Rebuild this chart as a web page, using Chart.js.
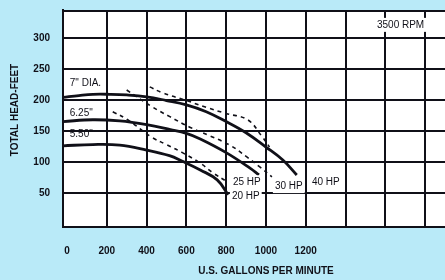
<!DOCTYPE html>
<html>
<head>
<meta charset="utf-8">
<script src="https://cdn.jsdelivr.net/npm/chart.js@4"></script>
<style>
  body { margin: 0; background: #b9eaf8; overflow: hidden; }
  canvas { display: block; }
</style>
</head>
<body>
<canvas id="pump" width="445" height="280"></canvas>
<script>
// impeller curves at 3500 RPM (US gpm -> total head, feet)
const gpm7 = [-20, 60, 130, 215, 300, 400, 500, 600, 700, 800, 900, 1000, 1085, 1155];
const head7 = [204, 207, 209, 209, 208, 205, 199, 192, 181, 165, 147, 124, 103, 79];
const gpm625 = [-20, 130, 265, 400, 520, 600, 670, 800, 920, 965];
const head625 = [165, 168, 166, 160, 152, 146, 137, 115, 90, 79];
const gpm550 = [-20, 130, 265, 400, 515, 580, 670, 755, 810];
const head550 = [126, 128, 127, 119, 110, 101, 87, 71, 47];

// dashed horsepower lines
const gpmHpA = [416, 476, 600, 700, 800, 908, 978, 1018];
const headHpA = [221, 212, 199, 188, 178, 168, 142, 124];
const gpmHpB = [300, 427, 517, 617, 718, 819, 904, 969, 1030];
const headHpB = [216, 189, 173, 156, 142, 127, 108, 92, 76];
const gpmHpC = [230, 305, 425, 500, 580, 670, 735, 805];
const headHpC = [181, 168, 140, 128, 115, 98, 82, 68];

const xTicks = [0, 200, 400, 600, 800, 1000, 1200, 1400, 1600, 1800];
const yTicks = [50, 100, 150, 200, 250, 300];

// text on the grid: [text, gpm, head, white box]
const notes = [
    ['7" DIA.', 14, 227, false],
    ['6.25"', 14, 179, false],
    ['5.50"', 14, 144, false],
    ['3500 RPM', 1558, 321, true],
    ['25 HP', 834, 67, true],
    ['20 HP', 829, 44, true],
    ['30 HP', 1045, 61, true],
    ['40 HP', 1231, 67, true]
];

const ink = '#101018';
const pts = (xs, ys) => xs.map((x, i) => ({ x: x, y: ys[i] }));
const solid = (xs, ys) => ({
    data: pts(xs, ys), borderColor: ink, borderWidth: 2.8,
    pointRadius: 0, tension: 0.4, fill: false
});
const dashed = (xs, ys) => ({
    data: pts(xs, ys), borderColor: ink, borderWidth: 1.6, borderDash: [4, 4],
    pointRadius: 0, tension: 0.4, fill: false
});

Chart.defaults.font.family = '"Liberation Sans", Arial, sans-serif';
Chart.defaults.color = ink;

const paper = {
    id: 'paper',
    beforeDraw(chart) {
        const a = chart.chartArea;
        chart.ctx.save();
        chart.ctx.fillStyle = '#fff';
        chart.ctx.fillRect(a.left, a.top, a.right - a.left, a.bottom - a.top);
        chart.ctx.restore();
    },
    afterDraw(chart) {
        const ctx = chart.ctx;
        const a = chart.chartArea;
        const x = chart.scales.x, y = chart.scales.y;
        ctx.save();
        // top edge of the grid
        ctx.strokeStyle = ink;
        ctx.lineWidth = 2;
        ctx.beginPath();
        ctx.moveTo(a.left, a.top + 1);
        ctx.lineTo(a.right, a.top + 1);
        ctx.stroke();

        ctx.textBaseline = 'middle';
        ctx.font = '10px "Liberation Sans", Arial';
        notes.forEach(n => {
            const px = x.getPixelForValue(n[1]);
            const py = y.getPixelForValue(n[2]);
            const w = ctx.measureText(n[0]).width;
            if (n[3]) {
                ctx.fillStyle = '#fff';
                ctx.fillRect(px - 2, py - 7, w + 4, 14);
            }
            ctx.fillStyle = ink;
            ctx.fillText(n[0], px, py);
        });
        ctx.font = 'bold 10px "Liberation Sans", Arial';
        ctx.textAlign = 'center';
        ctx.fillText('U.S. GALLONS PER MINUTE', 266, 271);
        ctx.translate(15, 110);
        ctx.rotate(-Math.PI / 2);
        ctx.fillText('TOTAL HEAD-FEET', 0, 0);
        ctx.restore();
    }
};

new Chart(document.getElementById('pump'), {
    type: 'line',
    data: {
        datasets: [
            solid(gpm7, head7),
            solid(gpm625, head625),
            solid(gpm550, head550),
            dashed(gpmHpA, headHpA),
            dashed(gpmHpB, headHpB),
            dashed(gpmHpC, headHpC)
        ]
    },
    options: {
        responsive: false,
        animation: false,
        events: [],
        layout: { padding: { top: 10, right: 0, left: 0, bottom: 0 } },
        plugins: { legend: { display: false }, tooltip: { enabled: false } },
        scales: {
            x: {
                type: 'linear',
                min: -20,
                max: 1900,
                afterBuildTicks: (s) => { s.ticks = xTicks.map(v => ({ value: v })); },
                afterFit: (s) => { s.height = 53; s.paddingLeft = 0; s.paddingRight = 0; },
                grid: {
                    color: ink,
                    lineWidth: (c) => c.tick && c.tick.value === 0 ? 0 : 2,
                    drawTicks: false
                },
                border: { color: ink, width: 2 },
                ticks: {
                    padding: 18,
                    maxRotation: 0,
                    font: { size: 10, weight: 'bold' },
                    callback: (v) => v <= 1200 ? String(v) : ''
                }
            },
            y: {
                min: -5,
                max: 345,
                afterBuildTicks: (s) => { s.ticks = yTicks.map(v => ({ value: v })); },
                afterFit: (s) => { s.width = 63; s.paddingTop = 0; s.paddingBottom = 0; },
                grid: { color: ink, lineWidth: 2, drawTicks: false },
                border: { color: ink, width: 2 },
                ticks: {
                    padding: 13,
                    font: { size: 10, weight: 'bold' }
                }
            }
        }
    },
    plugins: [paper]
});
</script>
</body>
</html>
